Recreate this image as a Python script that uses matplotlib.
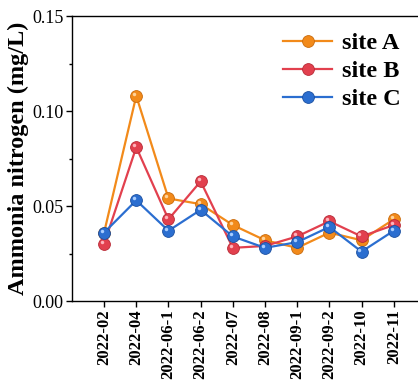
import matplotlib
matplotlib.use("Agg")
import matplotlib.pyplot as plt
from matplotlib.transforms import offset_copy
from matplotlib.ticker import MultipleLocator

plt.rcParams['font.family'] = ['Liberation Serif', 'DejaVu Serif']

dates = ['2022-02', '2022-04', '2022-06-1', '2022-06-2', '2022-07',
         '2022-08', '2022-09-1', '2022-09-2', '2022-10', '2022-11']
site_a = [0.036, 0.108, 0.054, 0.051, 0.040, 0.032, 0.028, 0.036, 0.032, 0.043]
site_b = [0.030, 0.081, 0.043, 0.063, 0.028, 0.029, 0.034, 0.042, 0.034, 0.040]
site_c = [0.036, 0.053, 0.037, 0.048, 0.034, 0.028, 0.031, 0.039, 0.026, 0.037]

colors = ['#F28A1A', '#E2404E', '#2B6ED0']
edges = ['#C96A0A', '#B82A36', '#1A4FA0']
lights = ['#FFD39A', '#FFB3BA', '#A9CDFF']

fig = plt.figure(figsize=(4.18, 3.83), dpi=100)
ax = fig.add_axes([0.172, 0.214, 0.847, 0.744])

x = list(range(len(dates)))
hl = offset_copy(ax.transData, fig=fig, x=-1.5, y=1.5, units='points')
for vals, lab, c, e, l in zip([site_a, site_b, site_c], ['site A', 'site B', 'site C'],
                              colors, edges, lights):
    ax.plot(x, vals, '-o', color=c, lw=1.6, ms=8.5, mfc=c, mec=e, mew=0.6, label=lab)
    ax.plot(x, vals, 'o', color=l, ms=2.5, mec='none', transform=hl)

ax.set_xlim(-1, 10)
ax.set_ylim(0, 0.15)
ax.set_yticks([0.0, 0.05, 0.10, 0.15])
ax.set_yticklabels(['0.00', '0.05', '0.10', '0.15'], fontsize=13)
ax.yaxis.set_minor_locator(MultipleLocator(0.025))
ax.set_xticks(x)
ax.set_xticklabels(dates, rotation=90, fontsize=12, fontweight='bold')
ax.tick_params(direction='out', length=4, width=1, pad=2)
ax.tick_params(which='minor', direction='out', length=2.5, width=1)
ax.set_ylabel('Ammonia nitrogen (mg/L)', fontsize=17.5, fontweight='bold', labelpad=2)
for s in ax.spines.values():
    s.set_linewidth(1)

ax.legend(loc='upper right', bbox_to_anchor=(0.99, 1.02), frameon=False,
          prop={'weight': 'bold', 'size': 17.5}, handlelength=2.0,
          handletextpad=0.4, labelspacing=0.25)

fig.savefig('out.png', dpi=100)
